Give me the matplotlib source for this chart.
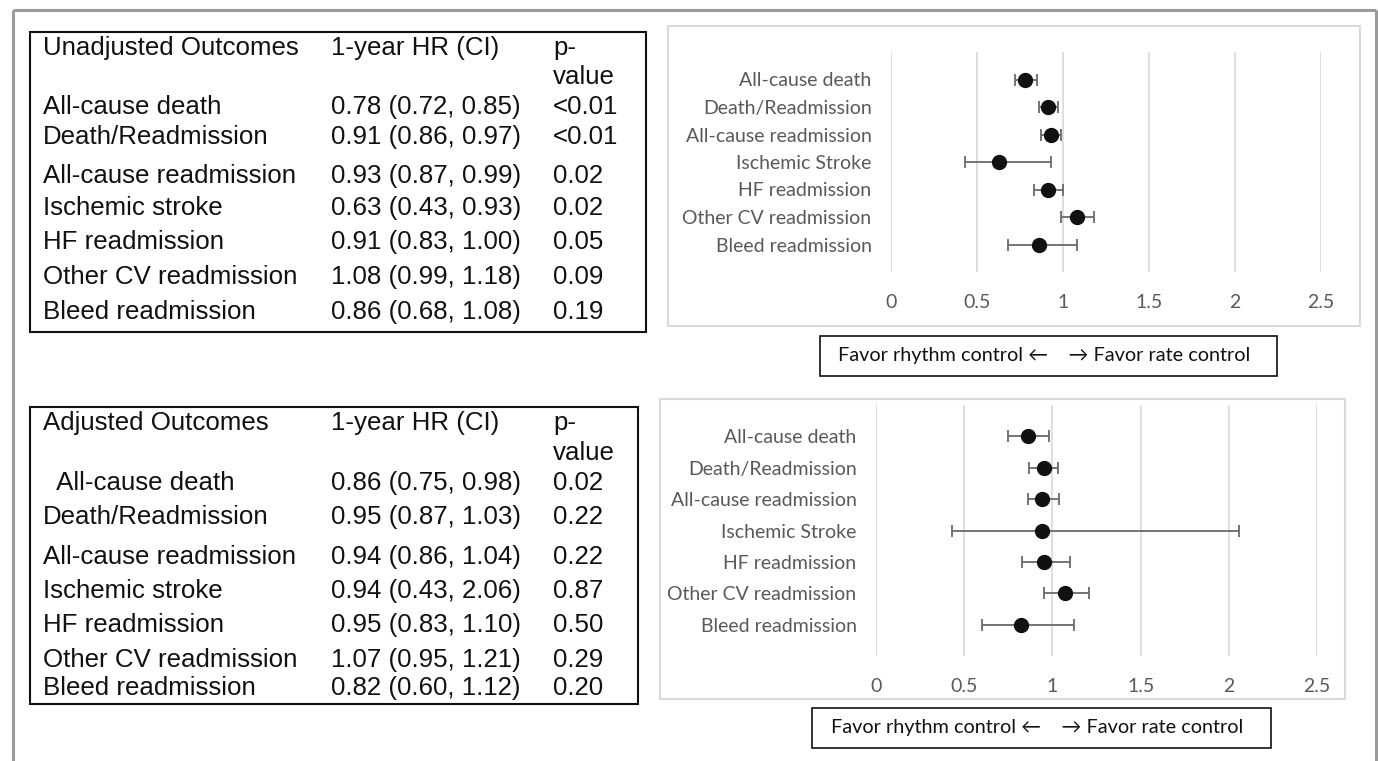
import matplotlib
matplotlib.use("Agg")
import matplotlib.pyplot as plt
from matplotlib.patches import Rectangle
from matplotlib.lines import Line2D

# ---------------- data ----------------
chart_labels = ["All-cause death", "Death/Readmission", "All-cause readmission",
                "Ischemic Stroke", "HF readmission", "Other CV readmission",
                "Bleed readmission"]
table_labels_unadj = ["All-cause death", "Death/Readmission", "All-cause readmission",
                      "Ischemic stroke", "HF readmission", "Other CV readmission",
                      "Bleed readmission"]
table_labels_adj = ["  All-cause death", "Death/Readmission", "All-cause readmission",
                    "Ischemic stroke", "HF readmission", "Other CV readmission",
                    "Bleed readmission"]

unadj_hr = [0.78, 0.91, 0.93, 0.63, 0.91, 1.08, 0.86]
unadj_lo = [0.72, 0.86, 0.87, 0.43, 0.83, 0.99, 0.68]
unadj_hi = [0.85, 0.97, 0.99, 0.93, 1.00, 1.18, 1.08]
unadj_p = ["<0.01", "<0.01", "0.02", "0.02", "0.05", "0.09", "0.19"]

adj_hr = [0.86, 0.95, 0.94, 0.94, 0.95, 1.07, 0.82]
adj_lo = [0.75, 0.87, 0.86, 0.43, 0.83, 0.95, 0.60]
adj_hi = [0.98, 1.03, 1.04, 2.06, 1.10, 1.21, 1.12]
adj_p = ["0.02", "0.22", "0.22", "0.87", "0.50", "0.29", "0.20"]

x_ticks = [0, 0.5, 1, 1.5, 2, 2.5]
x_tick_labels = ["0", "0.5", "1", "1.5", "2", "2.5"]
favor_text = "Favor rhythm control \u2190    \u2192 Favor rate control"

# ---------------- layout helpers ----------------
W, H = 1378, 761
fig = plt.figure(figsize=(W / 100, H / 100), dpi=100)
fig.patch.set_facecolor("white")


def fx(x):
    return x / W


def fy(y):
    return 1 - y / H


def rect(x0, y0, x1, y1, color, lw):
    fig.patches.append(Rectangle((fx(x0), fy(y1)), fx(x1) - fx(x0), fy(y0) - fy(y1),
                                 transform=fig.transFigure, fill=False,
                                 edgecolor=color, linewidth=lw))


def line(xs, ys, color, lw):
    fig.lines.append(Line2D([fx(v) for v in xs], [fy(v) for v in ys],
                            transform=fig.transFigure, color=color, linewidth=lw,
                            solid_capstyle="butt"))


TABLE_FONT = ["Liberation Sans", "DejaVu Sans"]
CHART_FONT = ["Lato", "DejaVu Sans"]
GRAY = "#595959"

# outer frame
line([12.5, 12.5], [761, 9.5], "#9a9a9a", 2.2)
line([12.5, 1375.5], [9.5, 9.5], "#9a9a9a", 2.2)
line([1375.5, 1375.5], [9.5, 761], "#9a9a9a", 2.2)


def draw_table(box, header, labels, hr, lo, hi, pv, ys, ys_head):
    x0, y0, x1, y1 = box
    rect(x0, y0, x1, y1, "#111111", 1.5)
    fs = 18.6
    c1, c2, c3 = 43, 331, 553
    kw = dict(fontsize=fs, family=TABLE_FONT, va="center", ha="left", color="#111111")
    fig.text(fx(c1), fy(ys_head[0]), header, **kw)
    fig.text(fx(c2), fy(ys_head[0]), "1-year HR (CI)", **kw)
    fig.text(fx(c3), fy(ys_head[0]), "p-", **kw)
    fig.text(fx(c3), fy(ys_head[1]), "value", **kw)
    for i, lab in enumerate(labels):
        y = fy(ys[i])
        fig.text(fx(c1), y, lab, **kw)
        fig.text(fx(c2), y, f"{hr[i]:.2f} ({lo[i]:.2f}, {hi[i]:.2f})", **kw)
        fig.text(fx(c3), y, pv[i], **kw)


draw_table((30, 32, 646, 332), "Unadjusted Outcomes", table_labels_unadj,
           unadj_hr, unadj_lo, unadj_hi, unadj_p,
           [107, 137, 176, 208, 242, 277, 312], [48, 77])
draw_table((30, 407, 638, 704), "Adjusted Outcomes", table_labels_adj,
           adj_hr, adj_lo, adj_hi, adj_p,
           [483, 517, 557, 591, 625, 660, 688], [423, 453])


def draw_chart(frame, ax_px, legend_box, legend_text_x):
    rect(*frame, "#d9d9d9", 1.5)
    ax0, ay0, ax1, ay1 = ax_px
    ax = fig.add_axes([fx(ax0), fy(ay1), fx(ax1) - fx(ax0), fy(ay0) - fy(ay1)])
    ax.set_facecolor("none")
    for s in ax.spines.values():
        s.set_visible(False)
    ax.set_xlim(0, 2.5)
    ax.set_ylim(len(chart_labels), -1)
    ax.set_xticks(x_ticks)
    ax.set_xticklabels(x_tick_labels)
    ax.set_yticks(range(len(chart_labels)))
    ax.set_yticklabels(chart_labels)
    ax.tick_params(length=0, labelsize=14, labelcolor=GRAY)
    ax.tick_params(axis="x", pad=16)
    ax.tick_params(axis="y", pad=14)
    for lab in ax.get_xticklabels() + ax.get_yticklabels():
        lab.set_family(CHART_FONT)
    ax.grid(axis="x", color="#d9d9d9", linewidth=1.2)
    ax.set_axisbelow(True)
    bx0, by0, bx1, by1 = legend_box
    rect(bx0, by0, bx1, by1, "#111111", 1.2)
    fig.text(fx(legend_text_x), fy((by0 + by1) / 2), favor_text, fontsize=14.3,
             family=CHART_FONT, va="center", ha="left", color="#111111")
    return ax


def draw_points(ax, hr, lo, hi):
    ys = list(range(len(hr)))
    xerr = [[h - l for h, l in zip(hr, lo)], [u - h for h, u in zip(hr, hi)]]
    ax.errorbar(hr, ys, xerr=xerr, fmt="o", color="#111111", ecolor="#6a6a6a",
                elinewidth=1.3, capsize=4, capthick=1.3, markersize=10, zorder=3)


ax_top = draw_chart((668, 26, 1360, 326), (891, 52, 1321, 272), (820, 336, 1277, 376), 838)
draw_points(ax_top, unadj_hr, unadj_lo, unadj_hi)

ax_bot = draw_chart((660, 399, 1345, 699), (876, 405, 1317, 656), (812, 708, 1271, 748), 831)
draw_points(ax_bot, adj_hr, adj_lo, adj_hi)

fig.savefig("out.png", dpi=100)
